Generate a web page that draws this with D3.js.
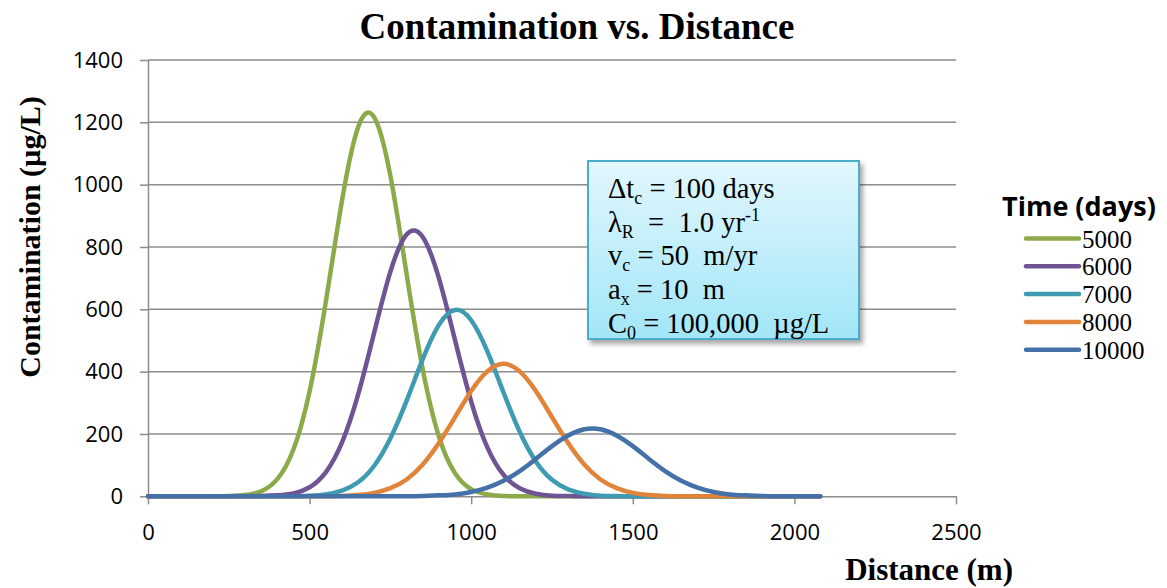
<!DOCTYPE html>
<html>
<head>
<meta charset="utf-8">
<script src="https://cdn.jsdelivr.net/npm/d3@7"></script>
<style>
  body { margin: 0; background: #fff; }
  svg { display: block; }
  .tick text { font-family: "Open Sans", Lato, sans-serif; font-size: 22px; fill: #000; }
  .serif { font-family: "Liberation Serif", "Times New Roman", serif; }
</style>
</head>
<body>
<svg id="chart" width="1167" height="588"></svg>
<script>
// distance along the flow path (m)
var distances = [0, 50, 100, 150, 200, 250, 300, 350, 400, 450, 500, 550, 600, 650, 700, 750, 800,
                 850, 900, 950, 1000, 1050, 1100, 1150, 1200, 1250, 1300, 1350, 1400, 1450, 1500,
                 1550, 1600, 1650, 1700, 1750, 1800, 1850, 1900, 1950, 2000, 2050, 2080];

// concentration (ug/L), one array per time
var c5000  = [0, 0, 0, 0, 0, 1, 4, 16, 55, 150, 337, 623, 947, 1184, 1216, 1028, 714, 408, 192, 74, 23, 6, 1,
              0, 0, 0, 0, 0, 0, 0, 0, 0, 0, 0, 0, 0, 0, 0, 0, 0, 0, 0, 0];
var c6000  = [0, 0, 0, 0, 0, 0, 0, 1, 3, 9, 29, 77, 172, 326, 526, 721, 840, 832, 700, 501, 304, 157, 69,
              26, 8, 2, 1, 0, 0, 0, 0, 0, 0, 0, 0, 0, 0, 0, 0, 0, 0, 0, 0];
var c7000  = [0, 0, 0, 0, 0, 0, 0, 0, 0, 0, 2, 6, 18, 45, 98, 186, 306, 440, 550, 598, 565, 465, 333,
              207, 112, 53, 22, 8, 2, 1, 0, 0, 0, 0, 0, 0, 0, 0, 0, 0, 0, 0, 0];
var c8000  = [0, 0, 0, 0, 0, 0, 0, 0, 0, 0, 0, 0, 1, 4, 11, 26, 54, 102, 171, 254, 338, 401, 425,
              401, 338, 254, 171, 102, 54, 26, 11, 4, 1, 0, 0, 0, 0, 0, 0, 0, 0, 0, 0];
var c10000 = [0, 0, 0, 0, 0, 0, 0, 0, 0, 0, 0, 0, 0, 0, 0, 0, 0, 1, 3, 6, 14, 28, 50,
              81, 120, 161, 195, 215, 215, 195, 161, 120, 81, 50, 28, 14, 6, 3, 1, 0, 0, 0, 0];

var seriesNames  = ["5000", "6000", "7000", "8000", "10000"];
var seriesValues = [c5000, c6000, c7000, c8000, c10000];
var colors = ["#8DAA4A", "#6F5494", "#3F9BB2", "#E1843A", "#4571A9"];

var xTicks = [0, 500, 1000, 1500, 2000, 2500];
var yTicks = [0, 200, 400, 600, 800, 1000, 1200, 1400];

var notes = [
  ["\u0394t", "c", " = 100 days", ""],
  ["\u03BB", "R", "  =  1.0 yr", "-1"],
  ["v", "c", " = 50  m/yr", ""],
  ["a", "x", " = 10  m", ""],
  ["C", "0", " = 100,000  \u00B5g/L", ""]
];

var svg = d3.select("#chart");

var x = d3.scaleLinear().domain([0, 2500]).range([148, 956]);
var y = d3.scaleLinear().domain([0, 1400]).range([496.3, 60]);

// horizontal grid
svg.append("g")
  .selectAll("line")
  .data(yTicks.slice(1))
  .enter().append("line")
  .attr("x1", x(0)).attr("x2", x(2500))
  .attr("y1", function(d) { return y(d); })
  .attr("y2", function(d) { return y(d); })
  .attr("stroke", "#8c8c8c").attr("stroke-width", 1.5);

var yAxis = svg.append("g")
  .attr("transform", "translate(" + x(0) + ",0)")
  .call(d3.axisLeft(y).tickValues(yTicks).tickFormat(d3.format("d"))
    .tickSize(8).tickSizeOuter(0).tickPadding(17));
var xAxis = svg.append("g")
  .attr("transform", "translate(0," + y(0) + ")")
  .call(d3.axisBottom(x).tickValues(xTicks).tickFormat(d3.format("d"))
    .tickSize(8).tickSizeOuter(0).tickPadding(20));

[yAxis, xAxis].forEach(function(a) {
  a.select(".domain").attr("stroke", "#8c8c8c").attr("stroke-width", 1.5);
  a.selectAll(".tick line").attr("stroke", "#8c8c8c").attr("stroke-width", 1.5);
});

// curves
var line = d3.line()
  .x(function(d, i) { return x(distances[i]); })
  .y(function(d) { return y(d); })
  .curve(d3.curveNatural);

svg.append("g")
  .selectAll("path")
  .data(seriesValues)
  .enter().append("path")
  .attr("d", line)
  .attr("fill", "none")
  .attr("stroke", function(d, i) { return colors[i]; })
  .attr("stroke-width", 4.5)
  .attr("stroke-linejoin", "round")
  .attr("stroke-linecap", "round");

// titles
svg.append("text").attr("class", "serif")
  .attr("x", 577).attr("y", 39)
  .attr("text-anchor", "middle")
  .attr("font-size", 37).attr("font-weight", "bold")
  .text("Contamination vs. Distance");

svg.append("text").attr("class", "serif")
  .attr("transform", "translate(40,237) rotate(-90)")
  .attr("text-anchor", "middle")
  .attr("font-size", 30).attr("font-weight", "bold")
  .text("Contamination (\u00B5g/L)");

svg.append("text").attr("class", "serif")
  .attr("x", 1013).attr("y", 580)
  .attr("text-anchor", "end")
  .attr("font-size", 31).attr("font-weight", "bold")
  .text("Distance (m)");

// annotation box
var defs = svg.append("defs");
var grad = defs.append("linearGradient").attr("id", "boxfill")
  .attr("x1", 0).attr("y1", 0).attr("x2", 0).attr("y2", 1);
grad.append("stop").attr("offset", "0%").attr("stop-color", "#e2f7fd");
grad.append("stop").attr("offset", "100%").attr("stop-color", "#a2e6f8");
defs.append("filter").attr("id", "shadow")
  .attr("x", "-10%").attr("y", "-10%").attr("width", "130%").attr("height", "130%")
  .append("feDropShadow")
  .attr("dx", 3).attr("dy", 4).attr("stdDeviation", 2.5)
  .attr("flood-color", "#000").attr("flood-opacity", 0.35);

svg.append("rect")
  .attr("x", 588).attr("y", 161).attr("width", 271).attr("height", 178)
  .attr("fill", "url(#boxfill)")
  .attr("stroke", "#4aaecb").attr("stroke-width", 2)
  .attr("filter", "url(#shadow)");

var noteText = svg.append("g").attr("class", "serif").attr("font-size", 28.5);
notes.forEach(function(n, i) {
  var t = noteText.append("text")
    .attr("x", 608).attr("y", 198 + i * 33.7)
    .style("white-space", "pre");
  t.append("tspan").text(n[0]);
  t.append("tspan").attr("font-size", 18).attr("dy", 6).text(n[1]);
  t.append("tspan").attr("dy", -6).text(n[2]);
  if (n[3]) t.append("tspan").attr("font-size", 18).attr("dy", -11).text(n[3]);
});

// legend
var legend = svg.append("g");
legend.append("text")
  .attr("x", 1002).attr("y", 216)
  .attr("font-family", "'Open Sans', Lato, sans-serif")
  .attr("font-weight", "bold").attr("font-size", 27)
  .text("Time (days)");

seriesNames.forEach(function(name, i) {
  var ly = 238.5 + i * 27.8;
  legend.append("line")
    .attr("x1", 1026).attr("x2", 1079)
    .attr("y1", ly).attr("y2", ly)
    .attr("stroke", colors[i]).attr("stroke-width", 4.5)
    .attr("stroke-linecap", "round");
  legend.append("text").attr("class", "serif")
    .attr("x", 1082).attr("y", ly + 9)
    .attr("font-size", 25)
    .text(name);
});
</script>
</body>
</html>
